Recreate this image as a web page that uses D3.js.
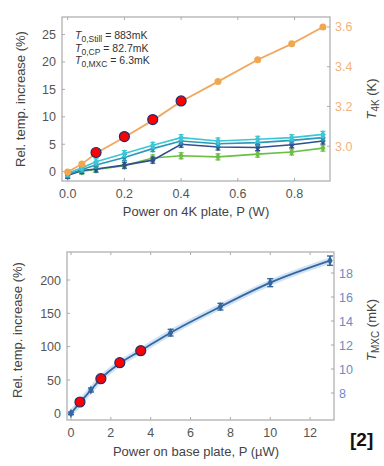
<!DOCTYPE html>
<html>
<head>
<meta charset="utf-8">
<script src="https://cdn.jsdelivr.net/npm/d3@7"></script>
<style>
  body { margin: 0; background: #fff; }
  svg text { font-family: "Liberation Sans", Arial, sans-serif; }
</style>
</head>
<body>
<div id="chart"></div>
<script>
// top panel: power on 4K plate (W)
var topP = [0, 0.05, 0.1, 0.2, 0.3, 0.4, 0.53, 0.67, 0.79, 0.9];
var t4K = [2.87, 2.91, 2.965, 3.045, 3.13, 3.225, 3.325, 3.435, 3.515, 3.60];
var relCyan = [-0.3, 0.7, 1.8, 3.3, 4.8, 6.2, 5.6, 5.9, 6.2, 6.8];
var relTeal = [-0.5, 0.4, 1.2, 2.6, 4.2, 5.6, 5.1, 5.3, 5.7, 6.2];
var relBlue = [-0.7, 0.2, 0.5, 1.2, 2.1, 5.0, 4.5, 4.4, 4.9, 5.6];
var relGreen = [-0.4, 0.1, 0.4, 1.1, 2.5, 2.9, 2.7, 3.2, 3.6, 4.3];
var redTopP = [0.1, 0.2, 0.3, 0.4];
var redTopRel = [3.5, 6.4, 9.5, 12.9];
var topXTicks = [0, 0.2, 0.4, 0.6, 0.8];
var topYTicks = [0, 5, 10, 15, 20, 25];
var topRTicks = [3.0, 3.2, 3.4, 3.6];

// bottom panel: power on base plate (uW)
var baseP = [0, 0.5, 1, 1.5, 2.5, 3.5, 5, 7.5, 10, 13];
var baseRel = [0, 18, 35, 52, 76, 94, 121, 160, 196, 229];
var baseErr = [2, 2, 3, 3, 4, 4, 5, 5, 6, 7];
var redBaseP = [0.45, 1.5, 2.45, 3.5];
var redBaseRel = [17, 52, 76, 94];
var botXTicks = [0, 2, 4, 6, 8, 10, 12];
var botYTicks = [0, 50, 100, 150, 200];
var botRTicks = [8, 10, 12, 14, 16, 18];

var svg = d3.select('#chart').append('svg')
  .attr('width', 384).attr('height', 466);

var tickCol = '#555';
var frameCol = '#aaa';

function frame(g, x0, y0, x1, y1) {
  g.append('rect')
    .attr('x', x0).attr('y', y0)
    .attr('width', x1 - x0).attr('height', y1 - y0)
    .attr('fill', 'none').attr('stroke', frameCol).attr('stroke-width', 1.2);
}

// inward ticks + labels for one side
function side(g, scale, ticks, orient, pos, fmt, col, other) {
  ticks.forEach(function(t) {
    var v = scale(t);
    if (orient === 'bottom') {
      g.append('line').attr('x1', v).attr('x2', v).attr('y1', pos).attr('y2', pos - 3)
        .attr('stroke', frameCol);
      g.append('line').attr('x1', v).attr('x2', v).attr('y1', other).attr('y2', other + 3)
        .attr('stroke', frameCol);
      g.append('text').attr('x', v).attr('y', pos + 17)
        .attr('text-anchor', 'middle').attr('font-size', 12.5).attr('fill', col)
        .text(fmt(t));
    } else if (orient === 'left') {
      g.append('line').attr('x1', pos).attr('x2', pos + 3).attr('y1', v).attr('y2', v)
        .attr('stroke', frameCol);
      g.append('text').attr('x', pos - 6).attr('y', v + 4.5)
        .attr('text-anchor', 'end').attr('font-size', 12.5).attr('fill', col)
        .text(fmt(t));
    } else {
      g.append('line').attr('x1', pos).attr('x2', pos - 3).attr('y1', v).attr('y2', v)
        .attr('stroke', frameCol);
      g.append('text').attr('x', pos + 5).attr('y', v + 4.5)
        .attr('text-anchor', 'start').attr('font-size', 12.5).attr('fill', col)
        .text(fmt(t));
    }
  });
}

function markers(g, xs, ys, x, y, col, err) {
  xs.forEach(function(d, i) {
    var cx = x(d), cy = y(ys[i]);
    g.append('line').attr('x1', cx).attr('x2', cx).attr('y1', cy - err).attr('y2', cy + err)
      .attr('stroke', col).attr('stroke-width', 1.5);
    g.append('line').attr('x1', cx - 2.5).attr('x2', cx + 2.5).attr('y1', cy - err).attr('y2', cy - err)
      .attr('stroke', col).attr('stroke-width', 1.2);
    g.append('line').attr('x1', cx - 2.5).attr('x2', cx + 2.5).attr('y1', cy + err).attr('y2', cy + err)
      .attr('stroke', col).attr('stroke-width', 1.2);
    g.append('path').attr('d', d3.symbol(d3.symbolDiamond, 22)())
      .attr('transform', 'translate(' + cx + ',' + cy + ')')
      .attr('fill', col);
  });
}

// ---------- top panel ----------
var gt = svg.append('g');
var xT = d3.scaleLinear().domain([-0.02, 0.925]).range([62, 330]);
var yT = d3.scaleLinear().domain([-1.7, 28.2]).range([181, 17]);
var yTR = d3.scaleLinear().domain([2.825, 3.65]).range([181, 17]);

frame(gt, 62, 17, 330, 181);
side(gt, xT, topXTicks, 'bottom', 181, d3.format('.1f'), tickCol, 17);
side(gt, yT, topYTicks, 'left', 62, d3.format('d'), tickCol);
side(gt, yTR, topRTicks, 'right', 330, d3.format('.1f'), '#f2b27a');

var lineT = d3.line().x(function(d) { return xT(d[0]); }).y(function(d) { return yT(d[1]); });

var series = [
  { v: relGreen, c: '#6cbf45' },
  { v: relBlue, c: '#2f4f8f' },
  { v: relTeal, c: '#2a98b8' },
  { v: relCyan, c: '#3cc6d6' }
];
series.forEach(function(s) {
  var pts = topP.map(function(p, i) { return [p, s.v[i]]; });
  gt.append('path').datum(pts).attr('d', lineT)
    .attr('fill', 'none').attr('stroke', s.c).attr('stroke-width', 1.6);
  markers(gt, topP, s.v, xT, yT, s.c, 3);
});

// orange T4K on right axis
var orangePts = topP.map(function(p, i) { return [p, t4K[i]]; });
gt.append('path').datum(orangePts)
  .attr('d', d3.line().x(function(d) { return xT(d[0]); }).y(function(d) { return yTR(d[1]); }))
  .attr('fill', 'none').attr('stroke', '#f0a860').attr('stroke-width', 1.8);
gt.selectAll('circle.or').data(orangePts).enter().append('circle')
  .attr('class', 'or')
  .attr('cx', function(d) { return xT(d[0]); })
  .attr('cy', function(d) { return yTR(d[1]); })
  .attr('r', 3.5).attr('fill', '#f0a850');

gt.selectAll('circle.red').data(redTopP).enter().append('circle')
  .attr('class', 'red')
  .attr('cx', function(d) { return xT(d); })
  .attr('cy', function(d, i) { return yT(redTopRel[i]); })
  .attr('r', 5).attr('fill', '#ff0000').attr('stroke', '#1f2f6f').attr('stroke-width', 1.2);

// annotation
var ann = [['0,Still', ' = 883mK'], ['0,CP', ' = 82.7mK'], ['0,MXC', ' = 6.3mK']];
ann.forEach(function(a, i) {
  var t = gt.append('text').attr('x', 75).attr('y', 39 + i * 12.5)
    .attr('font-size', 10.5).attr('fill', '#333');
  t.append('tspan').attr('font-style', 'italic').text('T');
  t.append('tspan').attr('dy', 3).attr('font-size', 8.5).text(a[0]);
  t.append('tspan').attr('dy', -3).text(a[1]);
});

gt.append('text').attr('transform', 'translate(25,99) rotate(-90)')
  .attr('text-anchor', 'middle').attr('font-size', 13).attr('fill', '#444')
  .text('Rel. temp. increase (%)');
gt.append('text').attr('x', 196).attr('y', 216)
  .attr('text-anchor', 'middle').attr('font-size', 13).attr('fill', '#444')
  .text('Power on 4K plate, P (W)');
var rt = gt.append('text').attr('transform', 'translate(376,99) rotate(-90)')
  .attr('text-anchor', 'middle').attr('font-size', 13).attr('fill', '#444');
rt.append('tspan').attr('font-style', 'italic').text('T');
rt.append('tspan').attr('dy', 3).attr('font-size', 10).text('4K');
rt.append('tspan').attr('dy', -3).text(' (K)');

// ---------- bottom panel ----------
var gb = svg.append('g');
var xB = d3.scaleLinear().domain([-0.2, 13.2]).range([67, 334]);
var yB = d3.scaleLinear().domain([-10, 242]).range([420, 252]);
var yBR = d3.scaleLinear().domain([5.75, 19.75]).range([420, 252]);

frame(gb, 67, 252, 334, 420);
side(gb, xB, botXTicks, 'bottom', 420, d3.format('d'), tickCol, 252);
side(gb, yB, botYTicks, 'left', 67, d3.format('d'), tickCol);
side(gb, yBR, botRTicks, 'right', 334, d3.format('d'), '#6a8cc8');

var basePts = baseP.map(function(p, i) { return [p, baseRel[i]]; });
var lineB = d3.line().curve(d3.curveMonotoneX)
  .x(function(d) { return xB(d[0]); }).y(function(d) { return yB(d[1]); });
gb.append('path').datum(basePts).attr('d', lineB)
  .attr('fill', 'none').attr('stroke', '#cfe3f5').attr('stroke-width', 6);
gb.append('path').datum(basePts).attr('d', lineB)
  .attr('fill', 'none').attr('stroke', '#3566a0').attr('stroke-width', 1.8);
baseP.forEach(function(p, i) {
  var cx = xB(p), cy = yB(baseRel[i]), e = yB(0) - yB(baseErr[i]);
  gb.append('line').attr('x1', cx).attr('x2', cx).attr('y1', cy - e).attr('y2', cy + e)
    .attr('stroke', '#3566a0').attr('stroke-width', 1.8);
  gb.append('line').attr('x1', cx - 3).attr('x2', cx + 3).attr('y1', cy - e).attr('y2', cy - e)
    .attr('stroke', '#3566a0').attr('stroke-width', 1.4);
  gb.append('line').attr('x1', cx - 3).attr('x2', cx + 3).attr('y1', cy + e).attr('y2', cy + e)
    .attr('stroke', '#3566a0').attr('stroke-width', 1.4);
  gb.append('path').attr('d', d3.symbol(d3.symbolDiamond, 24)())
    .attr('transform', 'translate(' + cx + ',' + cy + ')').attr('fill', '#3566a0');
});

gb.selectAll('circle.red').data(redBaseP).enter().append('circle')
  .attr('class', 'red')
  .attr('cx', function(d) { return xB(d); })
  .attr('cy', function(d, i) { return yB(redBaseRel[i]); })
  .attr('r', 5).attr('fill', '#ff0000').attr('stroke', '#1f2f6f').attr('stroke-width', 1.2);

gb.append('text').attr('transform', 'translate(22,330) rotate(-90)')
  .attr('text-anchor', 'middle').attr('font-size', 13).attr('fill', '#444')
  .text('Rel. temp. increase (%)');
gb.append('text').attr('x', 196).attr('y', 456)
  .attr('text-anchor', 'middle').attr('font-size', 13).attr('fill', '#444')
  .text('Power on base plate, P (\u00b5W)');
var rb = gb.append('text').attr('transform', 'translate(376,330) rotate(-90)')
  .attr('text-anchor', 'middle').attr('font-size', 13).attr('fill', '#444');
rb.append('tspan').attr('font-style', 'italic').text('T');
rb.append('tspan').attr('dy', 3).attr('font-size', 10).text('MXC');
rb.append('tspan').attr('dy', -3).text(' (mK)');

svg.append('text').attr('x', 350).attr('y', 446)
  .attr('font-size', 19).attr('font-weight', 'bold').attr('fill', '#111')
  .text('[2]');
</script>
</body>
</html>
